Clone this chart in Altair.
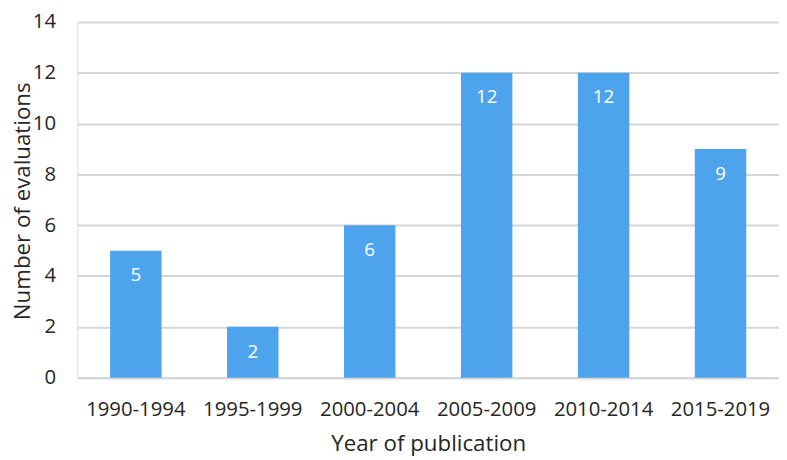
import altair as alt
import pandas as pd

periods = ["1990-1994", "1995-1999", "2000-2004", "2005-2009", "2010-2014", "2015-2019"]
counts = [5, 2, 6, 12, 12, 9]
y_ticks = [0, 2, 4, 6, 8, 10, 12, 14]

df = pd.DataFrame({"period": periods, "count": counts})

W, H = 708, 359
FONT = "Open Sans"

base = alt.Chart(df).encode(
    x=alt.X("period:N", sort=periods,
            scale=alt.Scale(paddingInner=0.56, paddingOuter=0.28),
            axis=alt.Axis(title="Year of publication", labelAngle=0, ticks=False,
                          domain=True, domainColor="#d3d7d7", domainWidth=2,
                          labelPadding=22, labelFontSize=20.5, labelFont=FONT,
                          labelColor="#262626", titleFont=FONT, titleFontSize=22.5,
                          titleFontWeight="normal", titleColor="#262626",
                          titleY=73, titleBaseline="alphabetic")),
)

bars = base.mark_bar(color="#4da3ec").encode(
    y=alt.Y("count:Q", scale=alt.Scale(domain=[0, 14], nice=False),
            axis=alt.Axis(title="Number of evaluations", values=y_ticks, ticks=False,
                          domain=False, grid=True, gridColor="#d3d7d7", gridWidth=2,
                          labelPadding=22, labelFontSize=20.5, labelFont=FONT,
                          labelColor="#262626", titleFont=FONT, titleFontSize=22.5,
                          titleFontWeight="normal", titleColor="#262626",
                          titleAngle=270, titleX=-48, titleY=H / 2 + 1,
                          titleBaseline="alphabetic", titleAlign="center")),
)

labels = base.mark_text(color="white", font=FONT, fontSize=19, baseline="middle", dy=25).encode(
    y=alt.Y("count:Q"),
    text=alt.Text("count:Q"),
)

chart = (bars + labels).properties(
    width=W, height=H,
    autosize=alt.AutoSizeParams(type="none"),
    padding={"left": 70, "top": 12, "right": 0, "bottom": 80},
).configure_view(fill="#edf1f1", stroke=None).configure(background="white")

chart.save("out.html", embed_options={"renderer": "svg", "actions": False})
